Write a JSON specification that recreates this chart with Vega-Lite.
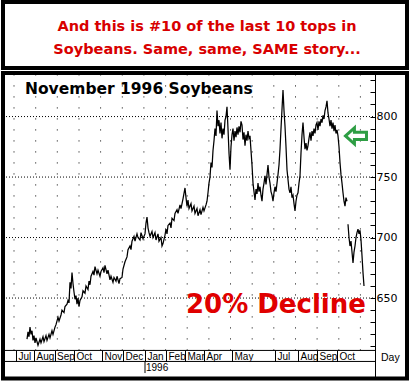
{
  "$schema": "https://vega.github.io/schema/vega-lite/v6.json",
  "background": "white",
  "padding": {"left": 0, "top": 0, "right": 0, "bottom": 0},
  "spacing": 0,
  "config": {
    "view": {"stroke": "black", "strokeWidth": 4, "fill": "white"},
    "concat": {"spacing": 0}
  },
  "datasets": {
    "price": [
      {"t":24,"p":616},{"t":25,"p":622},{"t":26,"p":618},{"t":27,"p":626},{"t":28,"p":620},{"t":29,"p":623},{"t":30,"p":615},{"t":31,"p":619},{"t":32,"p":613},{"t":33,"p":617},{"t":35,"p":611},{"t":37,"p":616},{"t":38,"p":613},{"t":40,"p":618},{"t":41,"p":614},{"t":43,"p":619},{"t":44,"p":615},{"t":46,"p":620},{"t":47,"p":617},{"t":49,"p":623},{"t":50,"p":620},{"t":52,"p":626},{"t":53,"p":628},{"t":55,"p":634},{"t":56,"p":631},{"t":58,"p":636},{"t":59,"p":640},{"t":61,"p":638},{"t":62,"p":643},{"t":64,"p":645},{"t":65,"p":648},{"t":66,"p":646},{"t":67,"p":663},{"t":68,"p":658},{"t":69,"p":671},{"t":70,"p":662},{"t":71,"p":655},{"t":72,"p":649},{"t":73,"p":652},{"t":74,"p":645},{"t":75,"p":650},{"t":76,"p":643},{"t":77,"p":648},{"t":79,"p":651},{"t":80,"p":656},{"t":82,"p":654},{"t":83,"p":660},{"t":85,"p":657},{"t":86,"p":664},{"t":87,"p":661},{"t":88,"p":668},{"t":90,"p":672},{"t":91,"p":669},{"t":92,"p":676},{"t":94,"p":670},{"t":95,"p":673},{"t":97,"p":668},{"t":98,"p":672},{"t":100,"p":675},{"t":101,"p":671},{"t":102,"p":677},{"t":104,"p":670},{"t":105,"p":673},{"t":107,"p":665},{"t":108,"p":668},{"t":110,"p":663},{"t":111,"p":667},{"t":113,"p":664},{"t":114,"p":668},{"t":116,"p":662},{"t":117,"p":666},{"t":119,"p":667},{"t":120,"p":674},{"t":122,"p":680},{"t":124,"p":684},{"t":125,"p":690},{"t":127,"p":693},{"t":128,"p":690},{"t":129,"p":697},{"t":131,"p":701},{"t":132,"p":697},{"t":134,"p":703},{"t":135,"p":700},{"t":137,"p":698},{"t":138,"p":704},{"t":140,"p":699},{"t":142,"p":703},{"t":143,"p":712},{"t":144,"p":717},{"t":145,"p":708},{"t":146,"p":704},{"t":147,"p":701},{"t":149,"p":705},{"t":150,"p":700},{"t":152,"p":704},{"t":153,"p":698},{"t":155,"p":703},{"t":156,"p":697},{"t":158,"p":700},{"t":159,"p":693},{"t":160,"p":695},{"t":162,"p":702},{"t":163,"p":707},{"t":164,"p":703},{"t":165,"p":710},{"t":167,"p":712},{"t":168,"p":708},{"t":169,"p":716},{"t":171,"p":714},{"t":172,"p":720},{"t":174,"p":723},{"t":175,"p":720},{"t":177,"p":727},{"t":178,"p":724},{"t":180,"p":732},{"t":182,"p":741},{"t":183,"p":733},{"t":184,"p":726},{"t":185,"p":731},{"t":186,"p":724},{"t":188,"p":728},{"t":189,"p":722},{"t":191,"p":726},{"t":192,"p":720},{"t":194,"p":724},{"t":195,"p":718},{"t":197,"p":723},{"t":198,"p":719},{"t":200,"p":725},{"t":201,"p":722},{"t":203,"p":727},{"t":204,"p":730},{"t":205,"p":737},{"t":206,"p":745},{"t":207,"p":750},{"t":208,"p":762},{"t":209,"p":758},{"t":210,"p":772},{"t":211,"p":780},{"t":212,"p":790},{"t":213,"p":784},{"t":214,"p":805},{"t":215,"p":792},{"t":216,"p":797},{"t":217,"p":786},{"t":218,"p":795},{"t":219,"p":782},{"t":220,"p":790},{"t":221,"p":785},{"t":222,"p":797},{"t":223,"p":800},{"t":224,"p":808},{"t":225,"p":790},{"t":226,"p":770},{"t":227,"p":756},{"t":228,"p":775},{"t":229,"p":785},{"t":230,"p":790},{"t":231,"p":780},{"t":232,"p":788},{"t":233,"p":783},{"t":234,"p":791},{"t":235,"p":785},{"t":236,"p":792},{"t":237,"p":787},{"t":238,"p":796},{"t":239,"p":793},{"t":240,"p":781},{"t":241,"p":787},{"t":242,"p":776},{"t":243,"p":785},{"t":244,"p":780},{"t":245,"p":788},{"t":246,"p":782},{"t":247,"p":784},{"t":248,"p":772},{"t":249,"p":760},{"t":250,"p":745},{"t":251,"p":738},{"t":252,"p":731},{"t":253,"p":740},{"t":254,"p":736},{"t":255,"p":745},{"t":256,"p":738},{"t":257,"p":742},{"t":258,"p":735},{"t":259,"p":730},{"t":260,"p":740},{"t":261,"p":745},{"t":262,"p":751},{"t":263,"p":744},{"t":264,"p":752},{"t":265,"p":760},{"t":266,"p":750},{"t":267,"p":745},{"t":268,"p":738},{"t":269,"p":735},{"t":270,"p":730},{"t":271,"p":737},{"t":272,"p":742},{"t":273,"p":738},{"t":274,"p":745},{"t":275,"p":752},{"t":276,"p":760},{"t":277,"p":773},{"t":278,"p":790},{"t":279,"p":806},{"t":280,"p":822},{"t":281,"p":805},{"t":282,"p":792},{"t":283,"p":775},{"t":284,"p":756},{"t":285,"p":748},{"t":286,"p":740},{"t":287,"p":737},{"t":288,"p":742},{"t":289,"p":733},{"t":290,"p":735},{"t":291,"p":728},{"t":292,"p":722},{"t":293,"p":730},{"t":294,"p":735},{"t":295,"p":737},{"t":296,"p":745},{"t":297,"p":751},{"t":298,"p":770},{"t":299,"p":785},{"t":300,"p":795},{"t":301,"p":783},{"t":302,"p":773},{"t":303,"p":778},{"t":304,"p":772},{"t":305,"p":776},{"t":306,"p":782},{"t":307,"p":787},{"t":308,"p":780},{"t":309,"p":788},{"t":310,"p":784},{"t":311,"p":790},{"t":312,"p":786},{"t":313,"p":793},{"t":314,"p":795},{"t":315,"p":789},{"t":316,"p":796},{"t":317,"p":792},{"t":318,"p":798},{"t":319,"p":795},{"t":320,"p":801},{"t":321,"p":798},{"t":322,"p":805},{"t":323,"p":808},{"t":324,"p":813},{"t":325,"p":803},{"t":326,"p":798},{"t":327,"p":792},{"t":328,"p":797},{"t":329,"p":790},{"t":330,"p":795},{"t":331,"p":788},{"t":332,"p":793},{"t":333,"p":786},{"t":334,"p":789},{"t":335,"p":784},{"t":336,"p":775},{"t":337,"p":762},{"t":338,"p":752},{"t":339,"p":745},{"t":340,"p":737},{"t":341,"p":730},{"t":342,"p":726},{"t":343,"p":733},{"t":344,"p":730},
      {"t":345,"p":711,"s":2},{"t":346,"p":700,"s":2},{"t":347,"p":693,"s":2},{"t":348,"p":697,"s":2},{"t":349,"p":688,"s":2},{"t":350,"p":679,"s":2},{"t":351,"p":688,"s":2},{"t":352,"p":693,"s":2},{"t":353,"p":700,"s":2},{"t":354,"p":704,"s":2},{"t":355,"p":707,"s":2},{"t":356,"p":703,"s":2},{"t":357,"p":706,"s":2},{"t":358,"p":698,"s":2},{"t":359,"p":685,"s":2},{"t":360,"p":671,"s":2},{"t":361,"p":660,"s":2}
    ]
  },
  "vconcat": [
    {
      "width": 404,
      "height": 66,
      "data": {"values": [{}]},
      "mark": {"type": "text", "font": "DejaVu Sans", "fontWeight": "bold", "fontSize": 14.5, "color": "#d80000", "lineHeight": 22.5, "baseline": "middle", "align": "center"},
      "encoding": {
        "x": {"datum": 0.505, "type": "quantitative", "scale": {"domain": [0, 1], "nice": false, "zero": false}, "axis": null},
        "y": {"datum": 0.62, "type": "quantitative", "scale": {"domain": [0, 1], "nice": false, "zero": false}, "axis": null},
        "text": {"value": ["And this is #10 of the last 10 tops in", "Soybeans. Same, same, SAME story..."]}
      }
    },
    {
      "width": 404,
      "height": 305.5,
      "resolve": {"axis": {"x": "independent", "y": "independent"}},
      "layer": [
        {
          "data": {"values": [{"t":11},{"t":32.7},{"t":54.3},{"t":76},{"t":97.6},{"t":119.3},{"t":140.9},{"t":162.6},{"t":184.2},{"t":205.9},{"t":227.5},{"t":249.2},{"t":270.8},{"t":292.5},{"t":314.1},{"t":335.8},{"t":357.4}]},
          "mark": {"type": "rule", "color": "black", "strokeWidth": 1, "strokeDash": [1, 10]},
          "encoding": {
            "x": {"field": "t", "type": "quantitative", "scale": {"domain": [0, 404], "nice": false, "zero": false}, "axis": null},
            "y": {"datum": 606.7, "type": "quantitative", "scale": {"domain": [583.5, 836], "nice": false, "zero": false}, "axis": null},
            "y2": {"datum": 836}
          }
        },
        {
          "data": {"values": [{"p":650},{"p":700},{"p":750},{"p":800}]},
          "mark": {"type": "rule", "color": "black", "strokeWidth": 1, "strokeDash": [1, 2]},
          "encoding": {
            "x": {"datum": 0, "type": "quantitative", "scale": {"domain": [0, 404], "nice": false, "zero": false}, "axis": null},
            "x2": {"datum": 372},
            "y": {"field": "p", "type": "quantitative", "scale": {"domain": [583.5, 836], "nice": false, "zero": false}, "axis": null}
          }
        },
        {
          "data": {"values": [{}]},
          "mark": {"type": "rule", "color": "black", "strokeWidth": 1},
          "encoding": {
            "x": {"datum": 0, "type": "quantitative", "scale": {"domain": [0, 404], "nice": false, "zero": false}, "axis": null},
            "x2": {"datum": 372},
            "y": {"datum": 606.7, "type": "quantitative", "scale": {"domain": [583.5, 836], "nice": false, "zero": false}, "axis": null}
          }
        },
        {
          "data": {"values": [{}]},
          "mark": {"type": "rule", "color": "black", "strokeWidth": 1},
          "encoding": {
            "x": {"datum": 0, "type": "quantitative", "scale": {"domain": [0, 404], "nice": false, "zero": false}, "axis": null},
            "x2": {"datum": 372},
            "y": {"datum": 597.6, "type": "quantitative", "scale": {"domain": [583.5, 836], "nice": false, "zero": false}, "axis": null}
          }
        },
        {
          "data": {"values": [{}]},
          "mark": {"type": "rule", "color": "black", "strokeWidth": 1},
          "encoding": {
            "x": {"datum": 142, "type": "quantitative", "scale": {"domain": [0, 404], "nice": false, "zero": false}, "axis": null},
            "y": {"datum": 597.6, "type": "quantitative", "scale": {"domain": [583.5, 836], "nice": false, "zero": false}, "axis": null},
            "y2": {"datum": 588}
          }
        },
        {
          "data": {"name": "price"},
          "mark": {"type": "line", "color": "black", "strokeWidth": 1.25},
          "encoding": {
            "x": {"field": "t", "type": "quantitative", "scale": {"domain": [0, 404], "nice": false, "zero": false},
              "axis": {"orient": "bottom", "offset": -28, "values": [13,31,51.5,71,99,120,142,163,182,201,229,272,295,314,334],
                "labelExpr": "datum.value == 13 ? 'Jul' : datum.value == 31 ? 'Aug' : datum.value == 51.5 ? 'Sep' : datum.value == 71 ? 'Oct' : datum.value == 99 ? 'Nov' : datum.value == 120 ? 'Dec' : datum.value == 142 ? 'Jan' : datum.value == 163 ? 'Feb' : datum.value == 182 ? 'Mar' : datum.value == 201 ? 'Apr' : datum.value == 229 ? 'May' : datum.value == 272 ? 'Jul' : datum.value == 295 ? 'Aug' : datum.value == 314 ? 'Sep' : 'Oct'",
                "tickSize": 11, "tickColor": "black", "tickWidth": 1, "domain": false, "grid": false,
                "labelAlign": "left", "labelOffset": 2, "labelBaseline": "middle", "labelPadding": -5.5,
                "labelFont": "Liberation Sans", "labelFontSize": 10, "labelColor": "black",
                "labelFlush": false, "labelOverlap": false, "labelBound": false, "title": null}},
            "y": {"field": "p", "type": "quantitative", "scale": {"domain": [583.5, 836], "nice": false, "zero": false},
              "axis": {"orient": "right", "offset": -32, "values": [610,620,630,640,650,660,670,680,690,700,710,720,730,740,750,760,770,780,790,800,810,820,830],
                "labelExpr": "datum.value % 50 === 0 ? datum.label : ''",
                "tickSize": -5, "labelPadding": 6, "domain": true, "domainColor": "black", "domainWidth": 1,
                "tickColor": "black", "tickWidth": 1, "labelFont": "DejaVu Sans", "labelFontSize": 11, "labelColor": "black",
                "labelAlign": "left", "labelBaseline": "middle", "labelBound": false, "labelFlush": false, "labelOverlap": false,
                "grid": false, "title": null}},
            "detail": {"field": "s"}
          }
        },
        {
          "data": {"values": [{}]},
          "mark": {"type": "text", "font": "DejaVu Sans", "fontWeight": "bold", "fontSize": 15.5, "align": "left", "baseline": "middle", "color": "black"},
          "encoding": {
            "x": {"datum": 22, "type": "quantitative", "scale": {"domain": [0, 404], "nice": false, "zero": false}, "axis": null},
            "y": {"datum": 823, "type": "quantitative", "scale": {"domain": [583.5, 836], "nice": false, "zero": false}, "axis": null},
            "text": {"value": "November 1996 Soybeans"}
          }
        },
        {
          "data": {"values": [{}]},
          "mark": {"type": "text", "font": "DejaVu Sans", "fontWeight": "bold", "fontSize": 26, "align": "left", "baseline": "middle", "color": "#e00000"},
          "encoding": {
            "x": {"datum": 183, "type": "quantitative", "scale": {"domain": [0, 404], "nice": false, "zero": false}, "axis": null},
            "y": {"datum": 644, "type": "quantitative", "scale": {"domain": [583.5, 836], "nice": false, "zero": false}, "axis": null},
            "text": {"value": "20% Decline"}
          }
        },
        {
          "data": {"values": [{}]},
          "mark": {"type": "text", "font": "Liberation Sans", "fontSize": 10, "align": "left", "baseline": "middle", "color": "black"},
          "encoding": {
            "x": {"datum": 143, "type": "quantitative", "scale": {"domain": [0, 404], "nice": false, "zero": false}, "axis": null},
            "y": {"datum": 591.8, "type": "quantitative", "scale": {"domain": [583.5, 836], "nice": false, "zero": false}, "axis": null},
            "text": {"value": "1996"}
          }
        },
        {
          "data": {"values": [{}]},
          "mark": {"type": "text", "font": "Liberation Sans", "fontSize": 10.5, "align": "left", "baseline": "middle", "color": "black"},
          "encoding": {
            "x": {"datum": 378, "type": "quantitative", "scale": {"domain": [0, 404], "nice": false, "zero": false}, "axis": null},
            "y": {"datum": 600.1, "type": "quantitative", "scale": {"domain": [583.5, 836], "nice": false, "zero": false}, "axis": null},
            "text": {"value": "Day"}
          }
        },
        {
          "data": {"values": [{}]},
          "mark": {"type": "point", "shape": "M-1,0L-0.15,-0.77L-0.15,-0.35L1,-0.35L1,0.35L-0.15,0.35L-0.15,0.77Z", "size": 440, "filled": false, "fill": "white", "fillOpacity": 1, "stroke": "#2e9e44", "strokeWidth": 3, "opacity": 1},
          "encoding": {
            "x": {"datum": 353, "type": "quantitative", "scale": {"domain": [0, 404], "nice": false, "zero": false}, "axis": null},
            "y": {"datum": 784, "type": "quantitative", "scale": {"domain": [583.5, 836], "nice": false, "zero": false}, "axis": null}
          }
        }
      ]
    }
  ]
}
